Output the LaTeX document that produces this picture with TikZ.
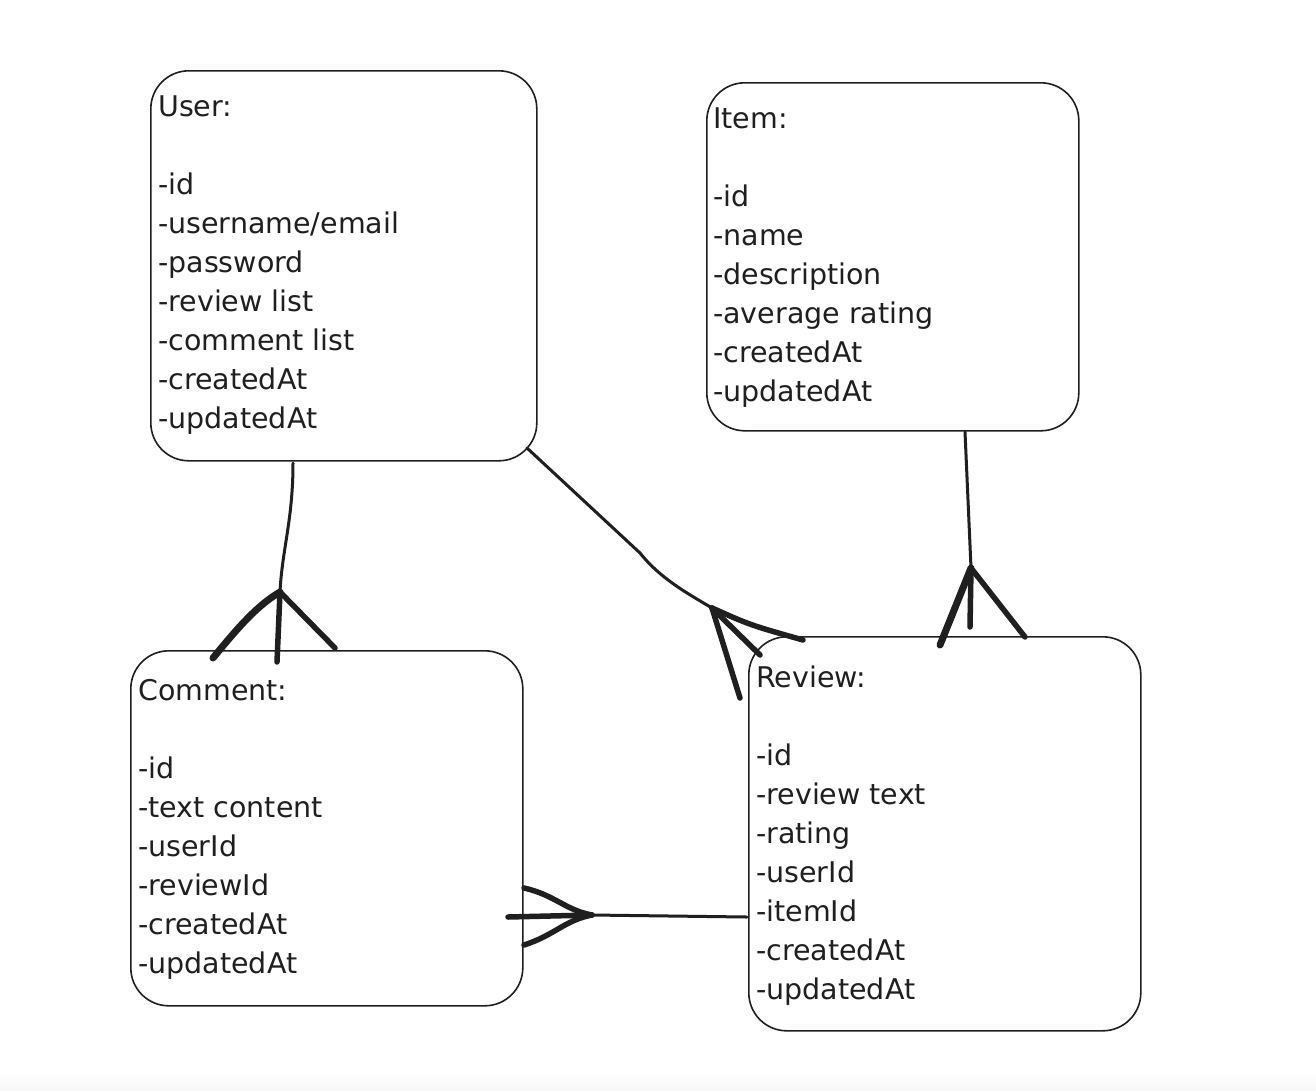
\documentclass[tikz,border=0pt]{standalone}
\usepackage{fontspec}
\setmainfont{DejaVu Sans}
\begin{document}
\begin{tikzpicture}[x=1pt,y=-1pt,
  box/.style={draw=black!88, line width=1.6pt, rounded corners=38pt, inner sep=0pt, anchor=north west},
  txt/.style={anchor=north west, inner sep=0pt, align=left, text=black!88, font=\fontsize{28.5}{39}\selectfont},
  rel/.style={draw=black!88, line width=3pt, line cap=round, line join=round},
  foot/.style={draw=black!88, line width=5.5pt, line cap=round}]
\useasboundingbox (0,0) rectangle (1316,1090);
\fill[white] (0,0) rectangle (1316,1090);
\shade[top color=white, bottom color=black!3] (0,1072) rectangle (1316,1090);

% boxes
\node[box, minimum width=386pt, minimum height=390pt] (user) at (150,70) {};
\node[box, minimum width=372pt, minimum height=348pt] (item) at (706,82) {};
\node[box, minimum width=392pt, minimum height=355pt] (comment) at (130,650) {};
\node[box, minimum width=392pt, minimum height=394pt] (review) at (748,636) {};

% texts
\node[txt] (usertxt) at (158,96) {User:\\[39pt]-id\\-username/email\\-password\\-review list\\-comment list\\-createdAt\\-updatedAt};
\node[txt] (itemtxt) at (713,108) {Item:\\[39pt]-id\\-name\\-description\\-average rating\\-createdAt\\-updatedAt};
\node[txt] (commenttxt) at (138,679) {Comment:\\[39pt]-id\\-text content\\-userId\\-reviewId\\-createdAt\\-updatedAt};
\node[txt] (reviewtxt) at (756,666) {Review:\\[39pt]-id\\-review text\\-rating\\-userId\\-itemId\\-createdAt\\-updatedAt};

% User -- Comment
\coordinate (uc0) at (293,463);
\coordinate (ucA) at (280,592);
\coordinate (ucL) at (213,658);
\coordinate (ucM) at (277,662);
\coordinate (ucR) at (335,648);
\draw[rel] (uc0) .. controls (293,520) and (282,550) .. (ucA);
\draw[foot, line width=7pt] (ucL) .. controls (240,625) and (258,605) .. (ucA);
\draw[foot] (ucA) -- (ucM);
\draw[foot] (ucA) -- (ucR);

% User -- Review
\coordinate (ur0) at (527,448);
\coordinate (urK) at (640,553);
\coordinate (urA) at (712,608);
\coordinate (urL) at (740,698);
\coordinate (urM) at (760,655);
\coordinate (urR) at (803,640);
\draw[rel] (ur0) -- (urK) .. controls (660,578) and (685,592) .. (urA);
\draw[foot] (urA) -- (urL);
\draw[foot] (urA) -- (urM);
\draw[foot] (urA) .. controls (750,625) .. (urR);

% Item -- Review
\coordinate (ir0) at (965,432);
\coordinate (irA) at (971,568);
\coordinate (irL) at (940,645);
\coordinate (irM) at (970,627);
\coordinate (irR) at (1025,637);
\draw[rel] (ir0) -- (irA);
\draw[foot, line width=7pt] (irA) -- (irL);
\draw[foot] (irA) -- (irM);
\draw[foot] (irA) -- (irR);

% Review -- Comment
\coordinate (rc0) at (747,917);
\coordinate (rcA) at (592,915);
\coordinate (rcM) at (508,917);
\coordinate (rcU) at (524,888);
\coordinate (rcD) at (524,945);
\draw[rel] (rc0) -- (rcA);
\draw[foot] (rcA) -- (rcM);
\draw[foot] (rcU) .. controls (555,895) and (565,910) .. (rcA);
\draw[foot] (rcD) .. controls (555,935) and (565,920) .. (rcA);
\end{tikzpicture}
\end{document}
